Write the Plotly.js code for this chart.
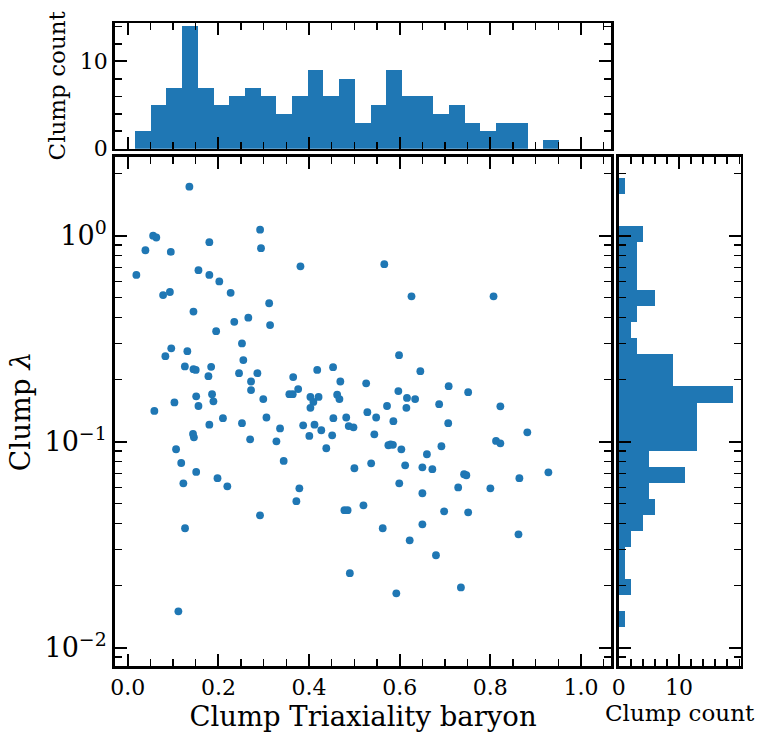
<!DOCTYPE html>
<html>
<head>
<meta charset="utf-8">
<script src="https://cdn.plot.ly/plotly-3.0.1.min.js"></script>
<style>html,body{margin:0;padding:0;background:#fff;}#chart{width:765px;height:739px;}</style>
</head>
<body>
<div id="chart"></div>
<script>
// ---- data ----
const triaxiality = [
  0.136,0.056,0.063,0.039,0.095,0.180,0.292,0.294,0.019,0.156,
  0.180,0.202,0.078,0.093,0.227,0.312,0.145,0.235,0.266,0.314,
  0.195,0.381,0.566,0.626,0.807,0.096,0.083,0.1315,0.252,0.255,
  0.126,0.145,0.150,0.184,0.178,0.2455,0.286,0.272,0.272,0.299,
  0.151,0.186,0.189,0.156,0.103,0.0587,0.210,0.180,0.252,0.306,
  0.336,0.144,0.146,0.270,0.328,0.1066,0.118,0.151,0.1227,0.198,
  0.2197,0.344,0.5985,0.418,0.453,0.365,0.469,0.6455,0.526,0.376,
  0.3565,0.364,0.403,0.421,0.4095,0.462,0.467,0.403,0.597,0.616,
  0.634,0.6147,0.572,0.687,0.708,0.5286,0.548,0.586,0.707,0.482,
  0.4536,0.387,0.412,0.427,0.4006,0.451,0.4875,0.498,0.544,0.438,
  0.575,0.580,0.6036,0.660,0.692,0.500,0.537,0.612,0.650,0.672,
  0.599,0.650,0.3786,0.751,0.822,0.8815,0.8125,0.822,0.742,0.747,
  0.864,0.928,0.729,0.800,0.1264,0.2918,0.1117,0.372,0.478,0.485,
  0.520,0.698,0.5625,0.650,0.622,0.680,0.490,0.5925,0.751,0.862,
  0.735,0.585
];
const lambda = [
  1.73,1.00,0.98,0.85,0.834,0.93,1.07,0.87,0.645,0.68,
  0.645,0.60,0.515,0.533,0.528,0.47,0.428,0.382,0.40,0.368,
  0.344,0.71,0.727,0.508,0.508,0.284,0.260,0.275,0.300,0.249,
  0.232,0.225,0.223,0.231,0.208,0.215,0.215,0.196,0.178,0.161,
  0.166,0.170,0.157,0.149,0.155,0.141,0.130,0.121,0.123,0.131,
  0.116,0.109,0.105,0.1027,0.1004,0.0919,0.0788,0.0713,0.0628,0.0665,
  0.0607,0.0806,0.263,0.223,0.230,0.206,0.196,0.220,0.192,0.180,
  0.170,0.170,0.165,0.165,0.156,0.169,0.161,0.146,0.176,0.163,
  0.161,0.146,0.149,0.152,0.186,0.139,0.131,0.1257,0.123,0.131,
  0.130,0.120,0.121,0.1136,0.1066,0.1074,0.119,0.1174,0.1086,0.0929,
  0.0961,0.0971,0.0918,0.0869,0.0950,0.0743,0.0785,0.0768,0.0751,0.0735,
  0.0628,0.0562,0.0594,0.174,0.1485,0.111,0.1008,0.0982,0.0695,0.0687,
  0.0665,0.071,0.060,0.0594,0.038,0.0439,0.01502,0.0514,0.0465,0.0465,
  0.0491,0.0459,0.038,0.0397,0.0332,0.0281,0.023,0.01836,0.0454,0.0355,
  0.0196,0.0965
];
// top histogram (triaxiality), 27 bins
const triaxBinStart = 0.0161;
const triaxBinWidth = 0.03464;
const triaxCounts = [2,5,7,14,7,5,6,7,6,4,6,9,6,8,3,5,9,6,6,4,5,3,2,3,3,0,1];
// right histogram (log10 lambda), 28 bins from bottom
const lamBinStartLog = -1.899;
const lamBinWidthLog = 0.0778;
const lamCounts = [1,0,2,1,1,2,4,6,5,11,5,13,13,13,19,9,9,3,2,3,6,3,3,3,4,0,0,1];
const xTickVals = [0,0.2,0.4,0.6,0.8,1.0];
const yTickVals = [0.01,0.1,1];
const yTickText = ['10<sup>\u22122</sup>','10<sup>\u22121</sup>','10<sup>0</sup>'];
const countTickVals = [0,10];

// ---- derived ----
const triaxCenters = triaxCounts.map((c,i)=>triaxBinStart+(i+0.5)*triaxBinWidth);
const lamCenters = lamCounts.map((c,i)=>lamBinStartLog+(i+0.5)*lamBinWidthLog);
const minorLog = [];
for (let d=-3; d<=0; d++) for (let k=2; k<=9; k++) minorLog.push(k*Math.pow(10,d));
const minorLogL = minorLog.map(v=>Math.log10(v));

const W=765, H=739;
const BLUE='#1f77b4';
const FONT='DejaVu Serif';
const px=v=>v/W, py=v=>1-v/H;

const common = {
  showline:true, linecolor:'#000', linewidth:2.5, mirror:'allticks',
  ticks:'inside', ticklen:12, tickwidth:2, tickcolor:'#000',
  showgrid:false, zeroline:false, automargin:false,
  tickfont:{family:FONT,size:22,color:'#000'}
};
const minorTicks = (extra)=>Object.assign({ticks:'inside', ticklen:7, tickwidth:1.5, tickcolor:'#000', showgrid:false}, extra);

const xRange=[-0.029,1.067];
const logRange=[-2.089,0.383];
const mainXdom=[px(114.6), px(611.4)];
const mainYdom=[py(666), py(156.8)];

const traces = [
  {type:'scatter', mode:'markers', x:triaxiality, y:lambda, xaxis:'x', yaxis:'y',
   marker:{color:BLUE,size:7.8,line:{width:0}}, hoverinfo:'skip'},
  {type:'bar', x:triaxCenters, y:triaxCounts, width:triaxCenters.map(()=>triaxBinWidth),
   xaxis:'x2', yaxis:'y2', marker:{color:BLUE,line:{width:0}}, hoverinfo:'skip'},
  {type:'bar', orientation:'h', y:lamCenters, x:lamCounts, width:lamCenters.map(()=>lamBinWidthLog),
   xaxis:'x3', yaxis:'y3', marker:{color:BLUE,line:{width:0}}, hoverinfo:'skip'}
];

const layout = {
  width:W, height:H, margin:{l:0,r:0,t:0,b:0},
  paper_bgcolor:'#fff', plot_bgcolor:'#fff', showlegend:false,
  font:{family:FONT,color:'#000'},
  bargap:0,
  xaxis: Object.assign({}, common, {
    domain:mainXdom, anchor:'y', range:xRange,
    tickmode:'array', tickvals:xTickVals, tickformat:'.1f',
    minor:minorTicks({dtick:0.05, tick0:0}),
    title:{text:'Clump Triaxiality baryon', font:{family:FONT,size:27.5,color:'#000'}, standoff:1}
  }),
  yaxis: Object.assign({}, common, {
    domain:mainYdom, anchor:'x', type:'log', range:logRange,
    tickmode:'array', tickvals:yTickVals, ticktext:yTickText,
    tickfont:{family:FONT,size:27,color:'#000'},
    minor:minorTicks({tickmode:'array', tickvals:minorLog}),
    title:{text:'Clump <i>\u03bb</i>', font:{family:FONT,size:28,color:'#000'}, standoff:6}
  }),
  xaxis2: Object.assign({}, common, {
    domain:mainXdom, anchor:'y2', range:xRange, showticklabels:false,
    tickmode:'array', tickvals:xTickVals,
    minor:minorTicks({dtick:0.05, tick0:0})
  }),
  yaxis2: Object.assign({}, common, {
    domain:[py(148.7), py(23)], anchor:'x2', range:[0,14.4],
    tickmode:'array', tickvals:countTickVals,
    minor:minorTicks({dtick:2, tick0:0}),
    title:{text:'Clump count', font:{family:FONT,size:23,color:'#000'}, standoff:8}
  }),
  xaxis3: Object.assign({}, common, {
    domain:[px(618.7), px(740.5)], anchor:'y3', range:[0,20.2],
    tickmode:'array', tickvals:countTickVals,
    minor:minorTicks({dtick:2, tick0:0}),
    title:{text:'Clump count', font:{family:FONT,size:23,color:'#000'}, standoff:2}
  }),
  yaxis3: Object.assign({}, common, {
    domain:mainYdom, anchor:'x3', range:logRange, showticklabels:false,
    tickmode:'array', tickvals:[-2,-1,0],
    minor:minorTicks({tickmode:'array', tickvals:minorLogL})
  })
};

Plotly.newPlot('chart', traces, layout, {staticPlot:true, displayModeBar:false});
</script>
</body>
</html>
